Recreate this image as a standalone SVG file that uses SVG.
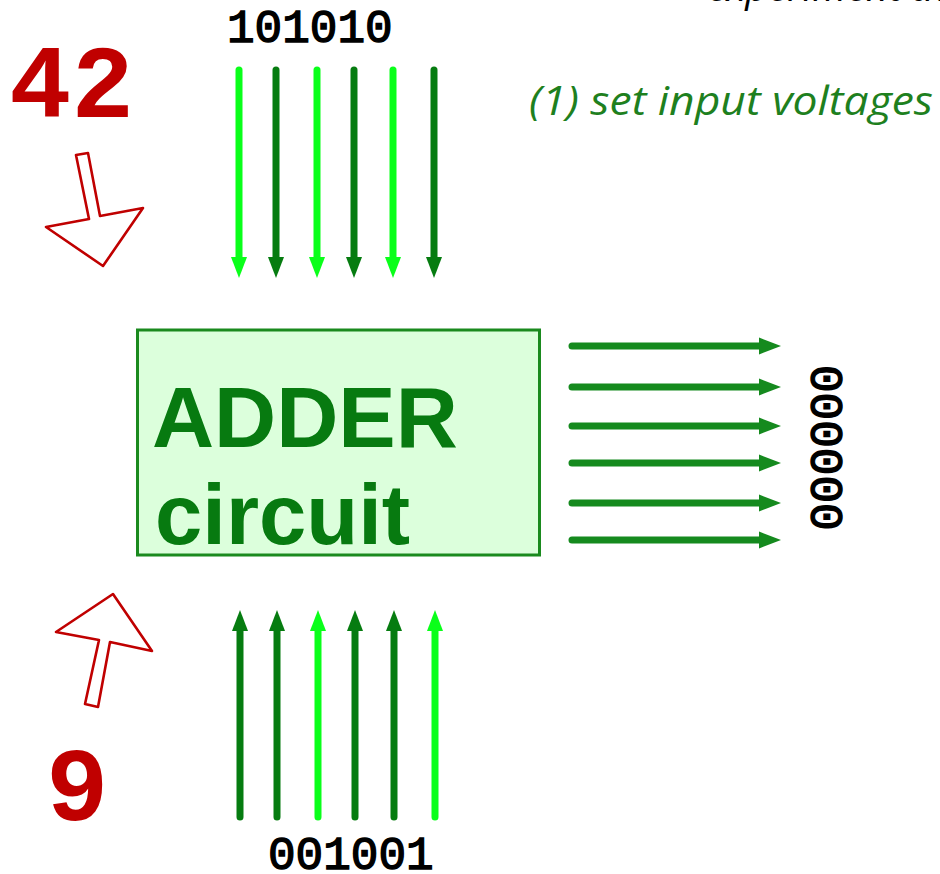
<svg xmlns="http://www.w3.org/2000/svg" width="940" height="874" viewBox="0 0 940 874">
<style>
.num{font-family:"Liberation Mono","Courier New",monospace;font-weight:bold}
.bitf{font-family:"Liberation Mono","Courier New",monospace;font-weight:normal;stroke:#000;stroke-width:1.4}
.red{fill:#c00000}
.bits{fill:#000}
.note{font-family:"Open Sans","Noto Sans",sans-serif;font-style:italic}
.lbl{font-family:"Liberation Sans",Arial,sans-serif;font-weight:bold;fill:#077a10}
.hollow{fill:#fff;stroke:#c00000;stroke-width:2.6;stroke-linejoin:round}
.w{fill:none;stroke-width:7;stroke-linecap:round}
.lt{stroke:#0aff1a}
.dk{stroke:#067c10}
.md{stroke:#158a1e}
</style>
<defs>
<marker id="hLt" markerUnits="userSpaceOnUse" markerWidth="22" markerHeight="18" refX="0" refY="8" orient="auto" overflow="visible"><path d="M0,0 L21,8 L0,16 Z" fill="#0aff1a"/></marker>
<marker id="hDk" markerUnits="userSpaceOnUse" markerWidth="22" markerHeight="18" refX="0" refY="8" orient="auto" overflow="visible"><path d="M0,0 L21,8 L0,16 Z" fill="#067c10"/></marker>
<marker id="hMd" markerUnits="userSpaceOnUse" markerWidth="24" markerHeight="18" refX="0" refY="8.5" orient="auto" overflow="visible"><path d="M0,0 L22,8.5 L0,17 Z" fill="#158a1e"/></marker>
</defs>
<rect width="940" height="874" fill="#fff"/>

<text class="note" x="707" y="1" font-size="40" fill="#000" textLength="240" lengthAdjust="spacingAndGlyphs">experiment th</text>
<text class="note" x="529" y="115" font-size="40" fill="#1e801e" textLength="404" lengthAdjust="spacingAndGlyphs">(1) set input voltages</text>

<g id="input-a">
<text class="num red" x="9" y="117" font-size="104">42</text>
<polygon class="hollow" points="76,155 88,153 100,216 143,208 103,266 46,227 89,219"/>
<text class="bitf bits" x="227" y="42" font-size="46">101010</text>
</g>

<g id="input-b">
<text class="num red" x="46" y="820" font-size="104">9</text>
<polygon class="hollow" points="113,594 152,651 110,642 98,707 85,704 99,640 56,632"/>
<text class="bitf bits" x="268" y="869" font-size="46">001001</text>
</g>

<g id="adder">
<rect x="137.5" y="330" width="402" height="225" fill="#dcffdc" stroke="#1a8a1e" stroke-width="3"/>
<text class="lbl" x="152" y="447" font-size="86">ADDER</text>
<text class="lbl" x="155" y="544" font-size="85">circuit</text>
</g>

<g id="output">
<text class="bitf bits" font-size="46" transform="translate(811,365) rotate(90)">000000</text>
</g>

<g id="connectors">
<line class="w lt" x1="239" y1="70" x2="239" y2="257" marker-end="url(#hLt)"/>
<line class="w dk" x1="276" y1="70" x2="276" y2="257" marker-end="url(#hDk)"/>
<line class="w lt" x1="317" y1="70" x2="317" y2="257" marker-end="url(#hLt)"/>
<line class="w dk" x1="354" y1="70" x2="354" y2="257" marker-end="url(#hDk)"/>
<line class="w lt" x1="393" y1="70" x2="393" y2="257" marker-end="url(#hLt)"/>
<line class="w dk" x1="434" y1="70" x2="434" y2="257" marker-end="url(#hDk)"/>

<line class="w dk" x1="240" y1="817" x2="240" y2="631" marker-end="url(#hDk)"/>
<line class="w dk" x1="277" y1="817" x2="277" y2="631" marker-end="url(#hDk)"/>
<line class="w lt" x1="318" y1="817" x2="318" y2="631" marker-end="url(#hLt)"/>
<line class="w dk" x1="355" y1="817" x2="355" y2="631" marker-end="url(#hDk)"/>
<line class="w dk" x1="394" y1="817" x2="394" y2="631" marker-end="url(#hDk)"/>
<line class="w lt" x1="435" y1="817" x2="435" y2="631" marker-end="url(#hLt)"/>

<line class="w md" x1="572" y1="346" x2="759" y2="346" marker-end="url(#hMd)"/>
<line class="w md" x1="572" y1="387" x2="759" y2="387" marker-end="url(#hMd)"/>
<line class="w md" x1="572" y1="426" x2="759" y2="426" marker-end="url(#hMd)"/>
<line class="w md" x1="572" y1="463" x2="759" y2="463" marker-end="url(#hMd)"/>
<line class="w md" x1="572" y1="503" x2="759" y2="503" marker-end="url(#hMd)"/>
<line class="w md" x1="572" y1="540" x2="759" y2="540" marker-end="url(#hMd)"/>
</g>
</svg>
